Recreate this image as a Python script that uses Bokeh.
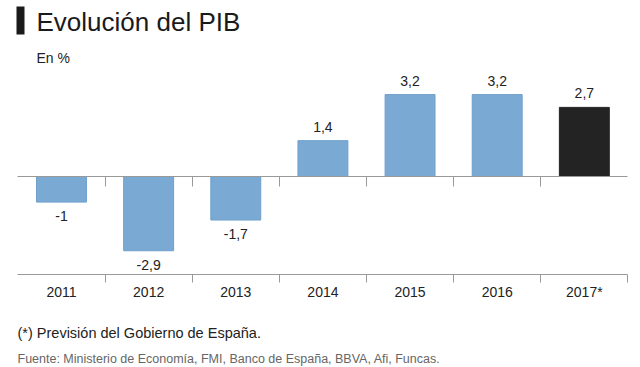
from bokeh.plotting import figure
from bokeh.models import (ColumnDataSource, Range1d, LinearAxis, FixedTicker,
                          Label, BoxAnnotation)
from bokeh.core.properties import value
from bokeh.embed import file_html
from bokeh.resources import INLINE

years = ["2011", "2012", "2013", "2014", "2015", "2016", "2017*"]
growth = [-1.0, -2.9, -1.7, 1.4, 3.2, 3.2, 2.7]
forecast = [False, False, False, False, False, False, True]

title_text = "Evolución del PIB"
unit_text = "En %"
note_text = "(*) Previsión del Gobierno de España."
source_text = "Fuente: Ministerio de Economía, FMI, Banco de España, BBVA, Afi, Funcas."

FONT = "Liberation Sans"
BLUE = "#7aaad4"
BLUE_EDGE = "#6f9fca"
BLACK = "#232323"

def fmt(v):
    return ("%g" % v).replace(".", ",")

idx = list(range(len(years)))
colors = [BLACK if f else BLUE for f in forecast]
edges = [BLACK if f else BLUE_EDGE for f in forecast]
labels = [fmt(v) for v in growth]

src = ColumnDataSource(dict(x=idx, top=growth, color=colors, edge=edges, label=labels))
pos = ColumnDataSource(dict(x=[i for i, v in zip(idx, growth) if v >= 0],
                            y=[v for v in growth if v >= 0],
                            label=[l for l, v in zip(labels, growth) if v >= 0]))
neg = ColumnDataSource(dict(x=[i for i, v in zip(idx, growth) if v < 0],
                            y=[v for v in growth if v < 0],
                            label=[l for l, v in zip(labels, growth) if v < 0]))

W, H = 640, 367
# pixel geometry of the plotting area (canvas pixels)
X0, STEP = 61.0, 87.14      # centre of first category, category pitch
Y0, PPU = 176.0, 25.6       # zero line, pixels per percentage point
Y_AXIS = 274.0              # bottom axis line

x_range = Range1d(-X0 / STEP, (W - X0) / STEP)
y_range = Range1d(-(H - Y0) / PPU, Y0 / PPU)
bottom_val = -(Y_AXIS - Y0) / PPU

p = figure(width=W, height=H, output_backend="svg", toolbar_location=None,
           x_range=x_range, y_range=y_range,
           min_border_left=0, min_border_right=0, min_border_top=0, min_border_bottom=0,
           x_axis_location=None, y_axis_location=None)
p.outline_line_color = None
p.grid.visible = False
p.background_fill_color = "white"
p.border_fill_color = "white"

p.vbar(x="x", top="top", bottom=0, width=0.573, fill_color="color", line_color="edge",
       line_width=1, source=src)

p.text(x="x", y="y", text="label", source=pos, text_align="center",
       text_baseline="bottom", y_offset=-9, text_font=value(FONT),
       text_font_size="14px", text_color="#222222")
p.text(x="x", y="y", text="label", source=neg, text_align="center",
       text_baseline="top", y_offset=9, text_font=value(FONT),
       text_font_size="14px", text_color="#222222")

bounds = [i + 0.5 for i in idx]
ext = (-0.5, len(years) - 0.5)

# bottom axis with year labels
bottom = LinearAxis(ticker=FixedTicker(ticks=idx, minor_ticks=bounds),
                    fixed_location=bottom_val, bounds=ext)
bottom.major_label_overrides = {i: y for i, y in zip(idx, years)}
bottom.major_tick_out = 0
bottom.major_tick_in = 0
bottom.minor_tick_out = 8
bottom.minor_tick_in = 0
bottom.axis_line_color = "#999999"
bottom.minor_tick_line_color = "#999999"
bottom.major_label_text_font = FONT
bottom.major_label_text_font_size = "14px"
bottom.major_label_text_color = "#222222"
bottom.major_label_standoff = 1
p.add_layout(bottom, "below")

# zero line axis
zero = LinearAxis(ticker=FixedTicker(ticks=[], minor_ticks=bounds[:-1]),
                  fixed_location=0, bounds=ext)
zero.major_label_text_font_size = "0px"
zero.major_tick_out = 0
zero.major_tick_in = 0
zero.minor_tick_out = 10
zero.minor_tick_in = 0
zero.axis_line_color = "#999999"
zero.minor_tick_line_color = "#999999"
p.add_layout(zero, "below")

# header / footer texts (screen units: from left, and up from the bottom)
def sy(y):
    return H - y

p.add_layout(BoxAnnotation(left=16, right=24, top=sy(6), bottom=sy(34),
                           left_units="screen", right_units="screen",
                           top_units="screen", bottom_units="screen",
                           fill_color="#1a1a1a", fill_alpha=1, line_color=None))
p.add_layout(Label(x=36, y=sy(21), x_units="screen", y_units="screen", text=title_text,
                   text_font=FONT, text_font_size="26px", text_color="#1a1a1a",
                   text_baseline="alphabetic"))
p.add_layout(Label(x=36, y=sy(57), x_units="screen", y_units="screen", text=unit_text,
                   text_font=FONT, text_font_size="14px", text_color="#222222",
                   text_baseline="alphabetic"))
p.add_layout(Label(x=17, y=sy(332), x_units="screen", y_units="screen", text=note_text,
                   text_font=FONT, text_font_size="14.5px", text_color="#222222",
                   text_baseline="alphabetic"))
p.add_layout(Label(x=17, y=sy(358), x_units="screen", y_units="screen", text=source_text,
                   text_font=FONT, text_font_size="12.5px", text_color="#666666",
                   text_baseline="alphabetic"))

open("out.html", "w").write(file_html(p, INLINE))
